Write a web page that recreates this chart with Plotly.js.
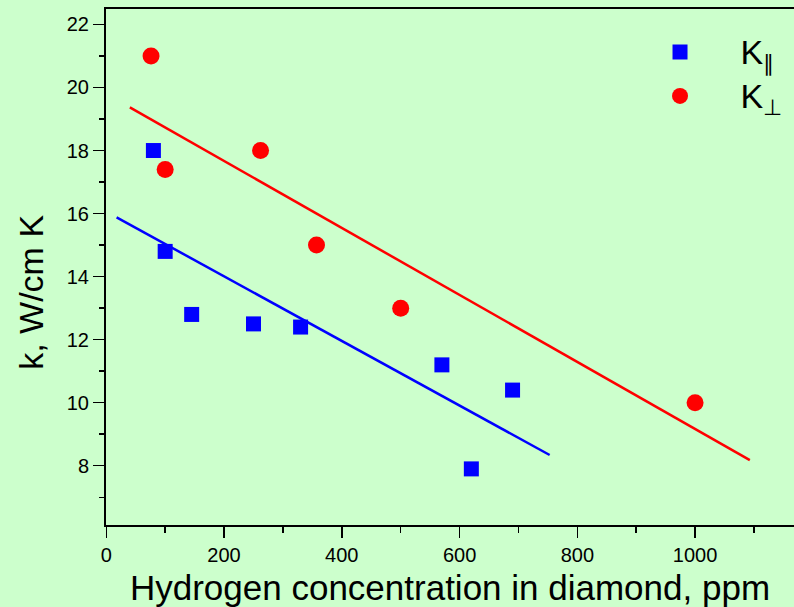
<!DOCTYPE html>
<html>
<head>
<meta charset="utf-8">
<script src="https://cdn.plot.ly/plotly-3.0.1.min.js"></script>
<style>
  html, body { margin: 0; padding: 0; background: #CCFFCC; }
  #chart { width: 794px; height: 607px; }
</style>
</head>
<body>
<div id="chart"></div>
<script>
// Thermal conductivity of diamond vs hydrogen content
// K parallel (squares)
const kParX = [80, 100, 145, 250, 330, 570, 620, 690];
const kParY = [18.0, 14.8, 12.8, 12.5, 12.4, 11.2, 7.9, 10.4];
// K perpendicular (circles)
const kPerpX = [76, 100, 262, 357, 500, 1000];
const kPerpY = [21.0, 17.4, 18.0, 15.0, 13.0, 10.0];
// linear fits (end points)
const fitParX = [17.5, 753];
const fitParY = [15.88, 8.34];
const fitPerpX = [40, 1093];
const fitPerpY = [19.37, 8.18];

const xTitle = 'Hydrogen concentration in diamond, ppm';
const yTitle = 'k, W/cm K';
// legend labels: a larger "K" inside a slightly tighter legend row
const nameParallel = '<span style="font-size:34px">K</span><sub>\u2225</sub>';
const namePerp = '<span style="font-size:34px">K</span><sub>\u22A5</sub>';

const FONT = 'Arial, "Liberation Sans", sans-serif';
const BG = '#CCFFCC';
const xRange = [-0.5, 1168];
const yRange = [6.12, 22.49];

const traces = [
  { x: fitParX, y: fitParY, mode: 'lines', line: { color: '#0000FF', width: 2.5 },
    showlegend: false, hoverinfo: 'skip' },
  { x: fitPerpX, y: fitPerpY, mode: 'lines', line: { color: '#FF0000', width: 2.5 },
    showlegend: false, hoverinfo: 'skip' },
  { x: kParX, y: kParY, mode: 'markers', name: nameParallel,
    marker: { symbol: 'square', size: 15, color: '#0000FF' } },
  { x: kPerpX, y: kPerpY, mode: 'markers', name: namePerp,
    marker: { symbol: 'circle', size: 17, color: '#FF0000' } }
];

const layout = {
  width: 794, height: 607,
  margin: { l: 106, r: 0, t: 9, b: 82, pad: 0 },
  paper_bgcolor: BG, plot_bgcolor: BG,
  font: { family: FONT, color: '#000' },
  showlegend: true,
  legend: {
    x: 0.7464, y: 0.969, xanchor: 'left', yanchor: 'top',
    bgcolor: 'rgba(0,0,0,0)', borderwidth: 0,
    itemwidth: 111, font: { family: FONT, size: 31.5, color: '#000' }
  },
  xaxis: {
    range: xRange, tick0: 0, dtick: 200,
    ticks: 'outside', ticklen: 11, tickwidth: 1.5, tickcolor: '#000',
    showline: true, linewidth: 2, linecolor: '#000', mirror: true,
    showgrid: false, zeroline: false,
    minor: { dtick: 100, tick0: 0, ticks: 'outside', ticklen: 6, tickwidth: 1.5, tickcolor: '#000', showgrid: false },
    tickfont: { family: FONT, size: 20, color: '#000' },
    title: { text: xTitle, font: { family: FONT, size: 35, color: '#000' }, standoff: 10 }
  },
  xaxis2: {
    overlaying: 'x', side: 'top', anchor: 'y', range: xRange,
    tick0: 0, dtick: 100, ticks: 'inside', ticklen: 3, tickwidth: 1.5, tickcolor: '#000',
    showticklabels: false, showline: false, showgrid: false, zeroline: false
  },
  yaxis: {
    range: yRange, tick0: 0, dtick: 2,
    ticks: 'outside', ticklen: 11, tickwidth: 1.5, tickcolor: '#000',
    showline: true, linewidth: 2, linecolor: '#000',
    showgrid: false, zeroline: false,
    minor: { dtick: 1, tick0: 0, ticks: 'outside', ticklen: 5.5, tickwidth: 1.5, tickcolor: '#000', showgrid: false },
    tickfont: { family: FONT, size: 20, color: '#000' }
  },
  annotations: [{
    text: yTitle, xref: 'paper', yref: 'paper', x: -0.109, y: 0.45,
    xanchor: 'center', yanchor: 'middle', textangle: -90, showarrow: false,
    font: { family: FONT, size: 34, color: '#000' }
  }]
};

Plotly.newPlot('chart', traces, layout, { displayModeBar: false, staticPlot: true });
</script>
</body>
</html>
